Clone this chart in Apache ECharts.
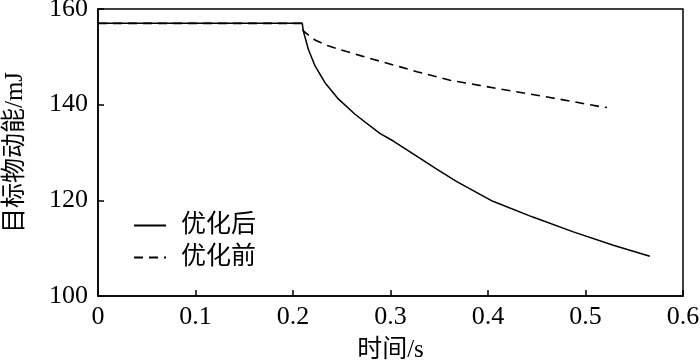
<!DOCTYPE html>
<html><head><meta charset="utf-8">
<script src="https://cdn.jsdelivr.net/npm/echarts@6/dist/echarts.min.js"></script>
<style>html,body{margin:0;padding:0;background:#fff}#c{width:700px;height:364px}</style>
</head><body><div id="c"></div>
<script>
const seriesNames = ['优化后', '优化前'];
const xTicks = [0, 0.1, 0.2, 0.3, 0.4, 0.5, 0.6];
const yTicks = [100, 120, 140, 160];
const afterX = [0, 0.2095, 0.2106, 0.2157, 0.2226, 0.2328, 0.2465, 0.2636, 0.289, 0.3029, 0.330, 0.347, 0.368, 0.405, 0.446, 0.4875, 0.5285, 0.566];
const afterY = [157, 157, 155.4, 151.6, 148.1, 144.6, 141.2, 138.0, 134.0, 132.4, 128.8, 126.6, 123.9, 119.8, 116.5, 113.4, 110.6, 108.3];
const beforeX = [0, 0.2095, 0.2106, 0.2226, 0.236, 0.255, 0.270, 0.289, 0.310, 0.327, 0.361, 0.412, 0.4636, 0.515, 0.522];
const beforeY = [157, 157, 155.4, 153.5, 152.3, 151.1, 150.2, 149.1, 147.9, 146.9, 145.1, 143.3, 141.5, 139.6, 139.4];

const ff = '"Liberation Serif", "Noto Sans CJK SC", serif';
const chart = echarts.init(document.getElementById('c'));
const zip = (xs, ys) => xs.map((x, i) => [x, ys[i]]);
chart.setOption({
  animation: false,
  backgroundColor: '#fff',
  grid: { left: 98, right: 17, top: 9, bottom: 68, outerBoundsMode: 'none', containLabel: false,
    show: true, borderColor: '#000', borderWidth: 1.5, backgroundColor: 'transparent' },
  legend: {
    orient: 'vertical', left: 128, top: 208, itemWidth: 32, itemHeight: 14, itemGap: 7,
    data: [seriesNames[0], seriesNames[1]],
    itemStyle: { color: 'transparent', borderWidth: 0, opacity: 0 },
    textStyle: { fontFamily: ff, fontSize: 25, color: '#000', padding: [0, 0, 0, 10] }
  },
  xAxis: {
    type: 'value', min: xTicks[0], max: xTicks[xTicks.length - 1], interval: 0.1,
    name: '时间/s', nameLocation: 'middle', nameGap: 42,
    nameTextStyle: { fontFamily: ff, fontSize: 25, color: '#000' },
    axisLine: { lineStyle: { color: '#000', width: 1.5 } },
    axisTick: { inside: true, length: 6, lineStyle: { color: '#000', width: 1.5 } },
    axisLabel: { fontFamily: ff, fontSize: 26, color: '#000', margin: 8, formatter: v => String(+v.toFixed(1)) },
    splitLine: { show: false }
  },
  yAxis: {
    type: 'value', min: yTicks[0], max: yTicks[yTicks.length - 1], interval: 20,
    name: '目标物动能/mJ', nameLocation: 'middle', nameGap: 70, nameRotate: 90,
    nameTextStyle: { fontFamily: ff, fontSize: 25, color: '#000' },
    axisLine: { show: true, lineStyle: { color: '#000', width: 1.5 } },
    axisTick: { show: true, inside: true, length: 6, lineStyle: { color: '#000', width: 1.5 } },
    axisLabel: { fontFamily: ff, fontSize: 26, color: '#000', margin: 10 },
    splitLine: { show: false }
  },
  series: [
    { name: seriesNames[1], type: 'line', data: zip(beforeX, beforeY), symbol: 'none', smooth: false,
      lineStyle: { color: '#000', width: 1.6, type: [9, 6] }, itemStyle: { color: '#000' } },
    { name: seriesNames[0], type: 'line', data: zip(afterX, afterY), symbol: 'none', smooth: false,
      lineStyle: { color: '#000', width: 1.5, type: 'solid' }, itemStyle: { color: '#000' } }
  ]
});
</script></body></html>
